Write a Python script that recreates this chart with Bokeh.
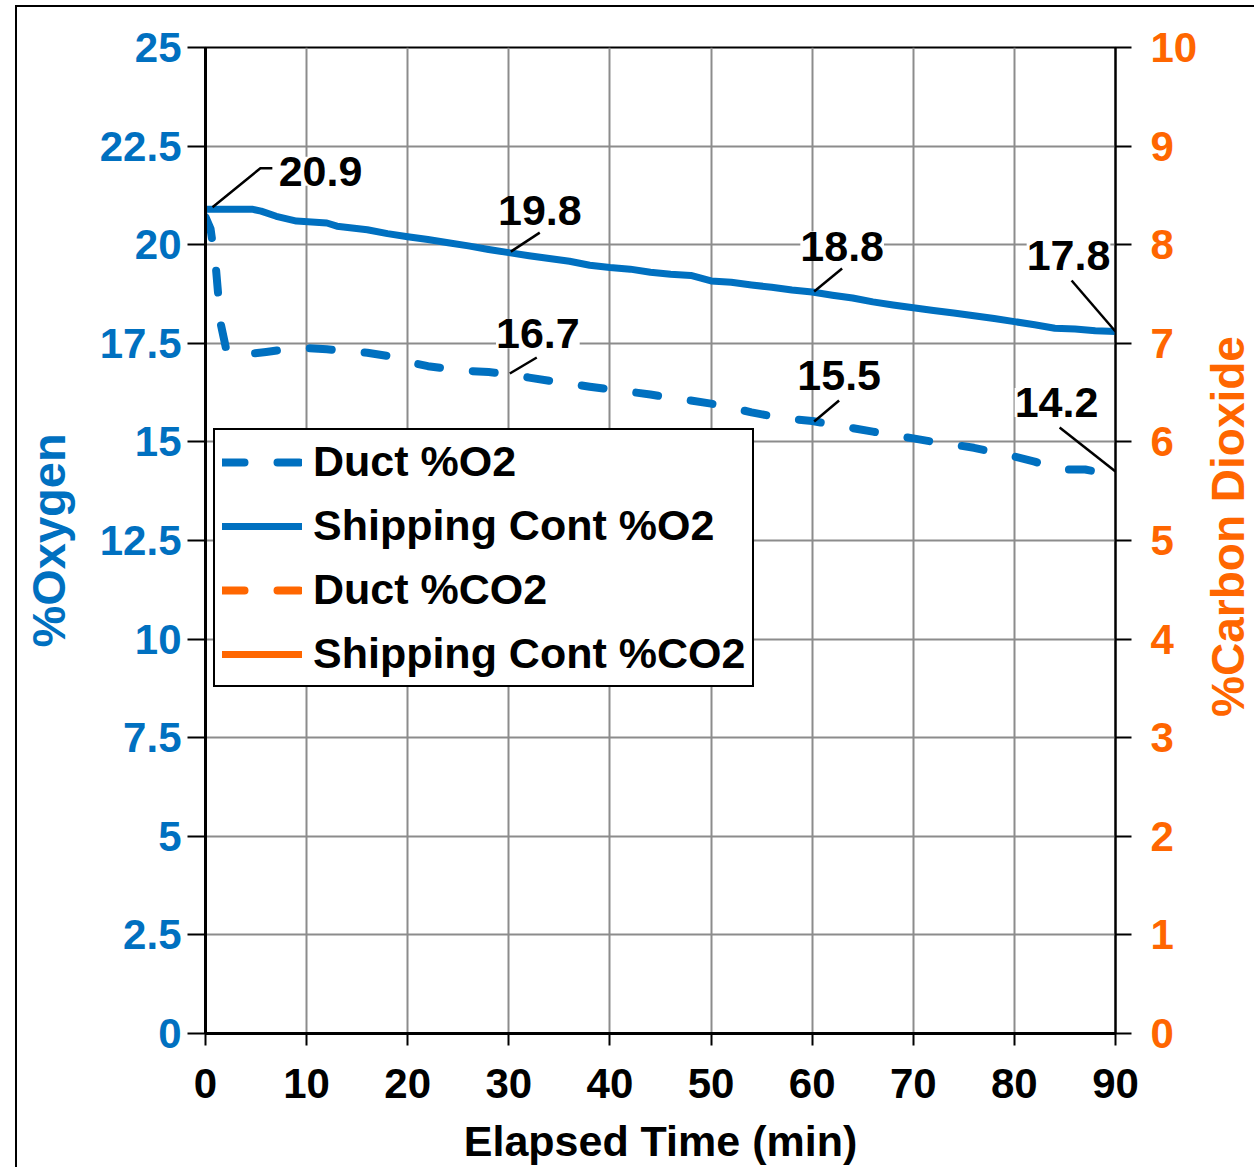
import math
from bokeh.plotting import figure
from bokeh.layouts import row
from bokeh.models import Range1d, LinearAxis, FixedTicker, Legend, LegendItem, Label
from bokeh.embed import file_html
from bokeh.resources import INLINE

# ---------------- data ----------------
ship_t = [0, 4.6, 5.5, 7, 9, 12, 13, 16, 18, 20, 22, 24, 26, 28, 30, 32, 34, 36, 38, 40, 42, 44,
          46, 48, 50, 52, 54, 56, 58, 60, 62, 64, 66, 68, 70, 72, 74, 76, 78, 80, 82, 84, 86, 88, 90]
ship_o2 = [20.9, 20.9, 20.85, 20.72, 20.6, 20.55, 20.47, 20.38, 20.28, 20.2, 20.13, 20.05, 19.97,
           19.88, 19.8, 19.72, 19.65, 19.58, 19.48, 19.42, 19.38, 19.3, 19.25, 19.22, 19.08, 19.05,
           18.98, 18.92, 18.85, 18.8, 18.72, 18.65, 18.55, 18.47, 18.4, 18.33, 18.27, 18.2, 18.13,
           18.05, 17.97, 17.88, 17.86, 17.82, 17.8]

duct_t = [0, 0.5, 1.0, 1.5, 2.0, 2.6, 4, 6, 8, 10, 12, 14, 16, 18, 20, 22, 24, 26, 28, 30, 32, 34,
          36, 38, 40, 42, 44, 46, 48, 50, 52, 54, 56, 58, 60, 62, 64, 66, 68, 70, 72, 74, 76, 78,
          80, 82, 84, 85.5, 87, 88, 90]
duct_o2 = [20.7, 20.4, 19.5, 18.0, 17.4, 17.22, 17.22, 17.28, 17.35, 17.38, 17.35, 17.3, 17.26,
           17.18, 17.03, 16.92, 16.85, 16.8, 16.77, 16.72, 16.63, 16.55, 16.48, 16.4, 16.33, 16.27,
           16.2, 16.12, 16.05, 15.97, 15.87, 15.75, 15.65, 15.58, 15.53, 15.44, 15.35, 15.26, 15.17,
           15.09, 15.0, 14.93, 14.85, 14.74, 14.63, 14.5, 14.33, 14.3, 14.3, 14.25, 14.22]

# CO2 series: no values are drawn in the chart (only their legend entries)
nan = float("nan")
duct_co2_t, duct_co2 = [0, 90], [nan, nan]
ship_co2_t, ship_co2 = [0, 90], [nan, nan]

x_ticks = [0, 10, 20, 30, 40, 50, 60, 70, 80, 90]
o2_ticks = [0, 2.5, 5, 7.5, 10, 12.5, 15, 17.5, 20, 22.5, 25]
o2_tick_labels = ["0", "2.5", "5", "7.5", "10", "12.5", "15", "17.5", "20", "22.5", "25"]
co2_ticks = [0, 1, 2, 3, 4, 5, 6, 7, 8, 9, 10]

ann_t = [0, 30, 30, 60, 60, 90, 90]
ann_v = [20.9, 19.8, 16.7, 18.8, 15.5, 17.8, 14.2]
ann_text = ["20.9", "19.8", "16.7", "18.8", "15.5", "17.8", "14.2"]

# ---------------- styling ----------------
BLUE = "#0070C0"
ORANGE = "#FF6600"
FONT = "Liberation Sans"

W, H = 1185, 1162
ML, MR, MT, MB = 190, 83, 42, 134
FW, FH = W - ML - MR, H - MT - MB
PXM = FW / 90.0
PXV = FH / 25.0
W2 = 54

p = figure(width=W, height=H, x_range=Range1d(0, 90), y_range=Range1d(0, 25),
           output_backend="svg", toolbar_location=None,
           min_border_left=ML, min_border_right=MR, min_border_top=MT, min_border_bottom=MB)
p.extra_y_ranges = {"co2": Range1d(0, 10)}
p.outline_line_color = "black"
p.outline_line_width = 2
p.background_fill_color = "white"
p.border_fill_alpha = 0

# grid
p.xgrid.ticker = FixedTicker(ticks=x_ticks)
p.ygrid.ticker = FixedTicker(ticks=o2_ticks)
for g in (p.xgrid, p.ygrid):
    g.grid_line_color = "#8C8C8C"
    g.grid_line_width = 2

# x axis
xa = p.xaxis[0]
xa.ticker = FixedTicker(ticks=x_ticks)
xa.axis_label = "Elapsed Time (min)"
xa.axis_label_text_font = FONT
xa.axis_label_text_font_size = "43px"
xa.axis_label_text_font_style = "bold"
xa.axis_label_text_color = "black"
xa.axis_label_standoff = 16
xa.major_label_text_font = FONT
xa.major_label_text_font_size = "42px"
xa.major_label_text_font_style = "bold"
xa.major_label_text_color = "black"
xa.major_label_standoff = 23
xa.major_tick_out = 12
xa.major_tick_in = 0
xa.minor_tick_out = 0
xa.minor_tick_in = 0
xa.axis_line_width = 3
xa.major_tick_line_width = 2

# left axis
ya = p.yaxis[0]
ya.ticker = FixedTicker(ticks=o2_ticks)
ya.major_label_overrides = dict(zip(o2_ticks, o2_tick_labels))
ya.axis_label = "%Oxygen"
ya.axis_label_text_font = FONT
ya.axis_label_text_font_size = "47px"
ya.axis_label_text_font_style = "bold"
ya.axis_label_text_color = BLUE
ya.axis_label_standoff = 22
ya.major_label_text_font = FONT
ya.major_label_text_font_size = "42px"
ya.major_label_text_font_style = "bold"
ya.major_label_text_color = BLUE
ya.major_label_standoff = 6
ya.major_tick_out = 18
ya.major_tick_in = 0
ya.minor_tick_out = 0
ya.minor_tick_in = 0
ya.axis_line_width = 3
ya.major_tick_line_width = 2

# right axis
ra = LinearAxis(y_range_name="co2", ticker=FixedTicker(ticks=co2_ticks))
ra.major_label_text_font = FONT
ra.major_label_text_font_size = "42px"
ra.major_label_text_font_style = "bold"
ra.major_label_text_color = ORANGE
ra.major_label_standoff = 19
ra.major_tick_out = 16
ra.major_tick_in = 0
ra.minor_tick_out = 0
ra.minor_tick_in = 0
ra.axis_line_width = 2
ra.major_tick_line_width = 2
p.add_layout(ra, "right")

# ---------------- series ----------------
r_duct = p.line(duct_t, duct_o2, line_color=BLUE, line_width=8, line_dash="22 33",
                line_cap="round", line_join="round")
r_ship = p.line(ship_t, ship_o2, line_color=BLUE, line_width=7, line_cap="round",
                line_join="round")
r_dco2 = p.line(duct_co2_t, duct_co2, y_range_name="co2", line_color=ORANGE, line_width=8,
                line_dash="22 33", line_cap="round")
r_sco2 = p.line(ship_co2_t, ship_co2, y_range_name="co2", line_color=ORANGE, line_width=7,
                line_cap="round")

# ---------------- annotations ----------------
txt_off = [(115, 38), (31, 42), (29, 41), (30, 46), (27, 47), (-47, 76), (-59, 71)]
lead_off = [[(7, 2), (55, 41), (67, 41)],
            [(2, 1), (31, 20)],
            [(1, 1.4), (28, 17.4)],
            [(2, 0.5), (30, 23.5)],
            [(2, 0.7), (27, 21.7)],
            [(0, 0), (-44, 51)],
            [(0, 2), (-56, 46)]]
xs, ys = [], []
for t, v, pts in zip(ann_t, ann_v, lead_off):
    xs.append([t + dx / PXM for dx, dy in pts])
    ys.append([v + dy / PXV for dx, dy in pts])
p.multi_line(xs, ys, line_color="black", line_width=2.5)

for t, v, s, (dx, dy) in zip(ann_t, ann_v, ann_text, txt_off):
    p.add_layout(Label(x=t, y=v, x_offset=dx, y_offset=dy, text=s, text_font=FONT,
                       text_font_size="43px", text_font_style="bold", text_color="black",
                       text_align="center", text_baseline="middle",
                       background_fill_color="white", background_fill_alpha=1.0))

# ---------------- legend ----------------
legend = Legend(items=[LegendItem(label="Duct %O2", renderers=[r_duct]),
                       LegendItem(label="Shipping Cont %O2", renderers=[r_ship]),
                       LegendItem(label="Duct %CO2", renderers=[r_dco2]),
                       LegendItem(label="Shipping Cont %CO2", renderers=[r_sco2])],
                location=(8, 346), orientation="vertical",
                label_text_font=FONT, label_text_font_size="43px", label_text_font_style="bold",
                label_text_color="black", glyph_width=80, glyph_height=48, spacing=15,
                padding=7, margin=0, label_standoff=11,
                border_line_color="black", border_line_width=2, border_line_alpha=1.0,
                background_fill_color="white", background_fill_alpha=1.0)
p.add_layout(legend)

# ---------------- right axis title (reads bottom to top) ----------------
p2 = figure(width=W2, height=H, x_range=Range1d(0, 1), y_range=Range1d(0, 1),
            output_backend="svg", toolbar_location=None,
            min_border_left=0, min_border_right=0, min_border_top=0, min_border_bottom=0)
p2.xaxis.visible = False
p2.yaxis.visible = False
p2.xgrid.visible = False
p2.ygrid.visible = False
p2.outline_line_color = None
p2.background_fill_alpha = 0
p2.border_fill_alpha = 0
p2.add_layout(Label(x=0.5, y=(H - MT - FH / 2.0) / H, y_offset=-25, text="%Carbon Dioxide",
                    angle=math.pi / 2, text_font=FONT, text_font_size="46px",
                    text_font_style="bold", text_color=ORANGE,
                    text_align="center", text_baseline="middle"))

layout = row(p, p2)
layout.margin = (5, 0, 0, 15)
layout.styles = {"box-shadow": "inset 2px 2px 0 0 black"}

open("out.html", "w").write(file_html(layout, INLINE))
